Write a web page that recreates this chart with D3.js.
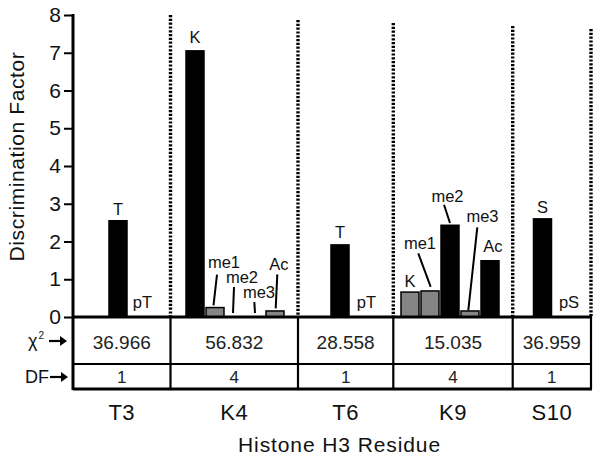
<!DOCTYPE html>
<html>
<head>
<meta charset="utf-8">
<script src="https://cdn.jsdelivr.net/npm/d3@7"></script>
<style>
  body { margin: 0; background: #fff; }
  svg { display: block; font-family: Arial, "Liberation Sans", Helvetica, sans-serif; }
</style>
</head>
<body>
<svg id="chart" width="601" height="458"></svg>
<script>
// ---------------- DATA ----------------
const groups = ["T3", "K4", "T6", "K9", "S10"];
const groupMods = [
  ["T", "pT"],
  ["K", "me1", "me2", "me3", "Ac"],
  ["T", "pT"],
  ["K", "me1", "me2", "me3", "Ac"],
  ["S", "pS"]
];
const groupValues = [
  [2.55, 0],
  [7.05, 0.25, 0, 0, 0.16],
  [1.91, 0],
  [0.66, 0.69, 2.43, 0.16, 1.49],
  [2.60, 0]
];
// grey (true) vs black (false) bars
const groupGrey = [
  [false, false],
  [false, true, true, true, true],
  [false, false],
  [true, true, false, true, false],
  [false, false]
];
const chiSquare = ["36.966", "56.832", "28.558", "15.035", "36.959"];
const degFreedom = ["1", "4", "1", "4", "1"];
const yTicks = [0, 1, 2, 3, 4, 5, 6, 7, 8];

// ---------------- LAYOUT ----------------
const x0 = 73, yZero = 317, yTop = 15;
const groupEdges = [73, 170.5, 298, 393.3, 512.7, 591];
const dottedTops = [15, 20, 23, 26, 29];
const bandRanges = [[105, 157], [185, 285], [327, 379], [400, 500], [529.5, 581.5]];
const rowChiBottom = 364, rowDfBottom = 389;
const barW = 18;

// label offsets: [dx, dy] relative to (bar centre, bar top); optional pointer [x1,y1,x2,y2]
const labelLayout = {
  "T3-T": {dx: 0, dy: -6}, "T3-pT": {dx: -1.5, dy: -9},
  "K4-K": {dx: 0, dy: -7.5},
  "K4-me1": {dx: 9, dy: -40, ptr: [2, -33, -1.5, -2.2]},
  "K4-me2": {dx: 7, dy: -34, ptr: [-1, -30, -2, -4]},
  "K4-me3": {dx: 4, dy: -19, ptr: [-0.7, -15, 0, -4]},
  "K4-Ac": {dx: 4, dy: -40.6, ptr: [2.3, -36.6, 0.7, -2.6]},
  "T6-T": {dx: 0, dy: -6.5}, "T6-pT": {dx: 0.5, dy: -9},
  "K9-K": {dx: 0, dy: -5},
  "K9-me1": {dx: -10, dy: -42, ptr: [-11.7, -37.5, 0.7, -4]},
  "K9-me2": {dx: -2.5, dy: -23.6, ptr: [-6, -20.5, 0, -2.3]},
  "K9-me3": {dx: 12.5, dy: -89, ptr: [7.3, -83.5, -1.7, -0.6]},
  "K9-Ac": {dx: 3, dy: -9},
  "S10-S": {dx: 0, dy: -5.5}, "S10-pS": {dx: 0.5, dy: -9}
};

const svg = d3.select("#chart");
const y = d3.scaleLinear().domain([0, 8]).range([yZero, yTop]);

// ---------------- dotted separators ----------------
groupEdges.slice(1).forEach((gx, i) => {
  svg.append("line")
    .attr("x1", gx).attr("x2", gx)
    .attr("y1", dottedTops[i]).attr("y2", yZero)
    .attr("stroke", "#000").attr("stroke-width", 3.4)
    .attr("stroke-dasharray", "2.2,1.6");
});

// ---------------- bars and labels ----------------
groups.forEach((g, gi) => {
  const xb = d3.scaleBand().domain(groupMods[gi]).range(bandRanges[gi]);
  const data = groupMods[gi].map((m, i) => ({
    key: g + "-" + m, mod: m, value: groupValues[gi][i], grey: groupGrey[gi][i]
  }));
  const gG = svg.append("g");
  gG.selectAll("rect").data(data.filter(d => d.value > 0)).join("rect")
    .attr("x", d => xb(d.mod) + xb.bandwidth() / 2 - barW / 2)
    .attr("width", barW)
    .attr("y", d => y(d.value))
    .attr("height", d => yZero - y(d.value))
    .attr("fill", d => d.grey ? "#858585" : "#000")
    .attr("stroke", "#000").attr("stroke-width", 1.5);

  data.forEach(d => {
    const cx = xb(d.mod) + xb.bandwidth() / 2;
    const top = y(d.value);
    const L = labelLayout[d.key] || {dx: 0, dy: -6};
    gG.append("text")
      .attr("x", cx + L.dx).attr("y", top + L.dy)
      .attr("text-anchor", "middle")
      .attr("font-size", 16.5)
      .attr("fill", "#111")
      .text(d.mod);
    if (L.ptr) {
      gG.append("line")
        .attr("x1", cx + L.ptr[0]).attr("y1", top + L.ptr[1])
        .attr("x2", cx + L.ptr[2]).attr("y2", top + L.ptr[3])
        .attr("stroke", "#000").attr("stroke-width", 2);
    }
  });
});

// ---------------- y axis ----------------
const yAxis = d3.axisLeft(y).tickValues(yTicks).tickSize(9).tickPadding(3).tickFormat(d3.format("d"));
const ax = svg.append("g").attr("transform", `translate(${x0},0)`).call(yAxis);
ax.select(".domain").remove();
ax.selectAll(".tick line").attr("stroke", "#000").attr("stroke-width", 2);
ax.selectAll(".tick text").attr("font-size", 21).attr("fill", "#111")
  .attr("font-family", "Arial, 'Liberation Sans', sans-serif");

// y axis line continuing as table left border
svg.append("line").attr("x1", x0).attr("x2", x0).attr("y1", yTop - 1).attr("y2", rowDfBottom + 1)
  .attr("stroke", "#000").attr("stroke-width", 3);

// y axis title
svg.append("text")
  .attr("transform", `translate(24,${(50 + 263) / 2}) rotate(-90)`)
  .attr("text-anchor", "middle")
  .attr("font-size", 21).attr("letter-spacing", 0.6)
  .attr("fill", "#111")
  .text("Discrimination Factor");

// ---------------- table ----------------
svg.append("line").attr("x1", x0).attr("x2", groupEdges[5] + 1).attr("y1", yZero).attr("y2", yZero)
  .attr("stroke", "#000").attr("stroke-width", 3);
svg.append("line").attr("x1", x0).attr("x2", groupEdges[5] + 1).attr("y1", rowChiBottom).attr("y2", rowChiBottom)
  .attr("stroke", "#000").attr("stroke-width", 2);
svg.append("line").attr("x1", x0).attr("x2", groupEdges[5] + 1).attr("y1", rowDfBottom).attr("y2", rowDfBottom)
  .attr("stroke", "#000").attr("stroke-width", 3);
groupEdges.slice(1).forEach(gx => {
  svg.append("line").attr("x1", gx).attr("x2", gx).attr("y1", yZero).attr("y2", rowDfBottom)
    .attr("stroke", "#000").attr("stroke-width", 2.2);
});

groups.forEach((g, gi) => {
  const cx = (groupEdges[gi] + groupEdges[gi + 1]) / 2;
  svg.append("text").attr("x", cx).attr("y", 349)
    .attr("text-anchor", "middle").attr("font-size", 19).attr("fill", "#222")
    .text(chiSquare[gi]);
  svg.append("text").attr("x", cx).attr("y", 383)
    .attr("text-anchor", "middle").attr("font-size", 17).attr("fill", "#222")
    .text(degFreedom[gi]);
  svg.append("text").attr("x", cx).attr("y", 420)
    .attr("text-anchor", "middle").attr("font-size", 22).attr("letter-spacing", 0.5).attr("fill", "#111")
    .text(g);
});

// row labels with arrows
function arrow(xs, xe, yy) {
  svg.append("line").attr("x1", xs).attr("x2", xe - 5).attr("y1", yy).attr("y2", yy)
    .attr("stroke", "#000").attr("stroke-width", 2.2);
  svg.append("path")
    .attr("d", `M${xe},${yy} L${xe - 7},${yy - 5} L${xe - 7},${yy + 5} Z`)
    .attr("fill", "#000");
}
const chiLabel = svg.append("text").attr("x", 28).attr("y", 347).attr("font-size", 18).attr("fill", "#111");
chiLabel.append("tspan").text("χ");
chiLabel.append("tspan").attr("font-size", 10).attr("dy", -8).attr("dx", 1).text("2");
arrow(49, 67, 341);
svg.append("text").attr("x", 25).attr("y", 383).attr("font-size", 18).attr("fill", "#111").text("DF");
arrow(50, 68, 377);

// x axis title
svg.append("text").attr("x", 339.5).attr("y", 451.5)
  .attr("text-anchor", "middle").attr("font-size", 21).attr("letter-spacing", 0.9).attr("fill", "#111")
  .text("Histone H3 Residue");
</script>
</body>
</html>
